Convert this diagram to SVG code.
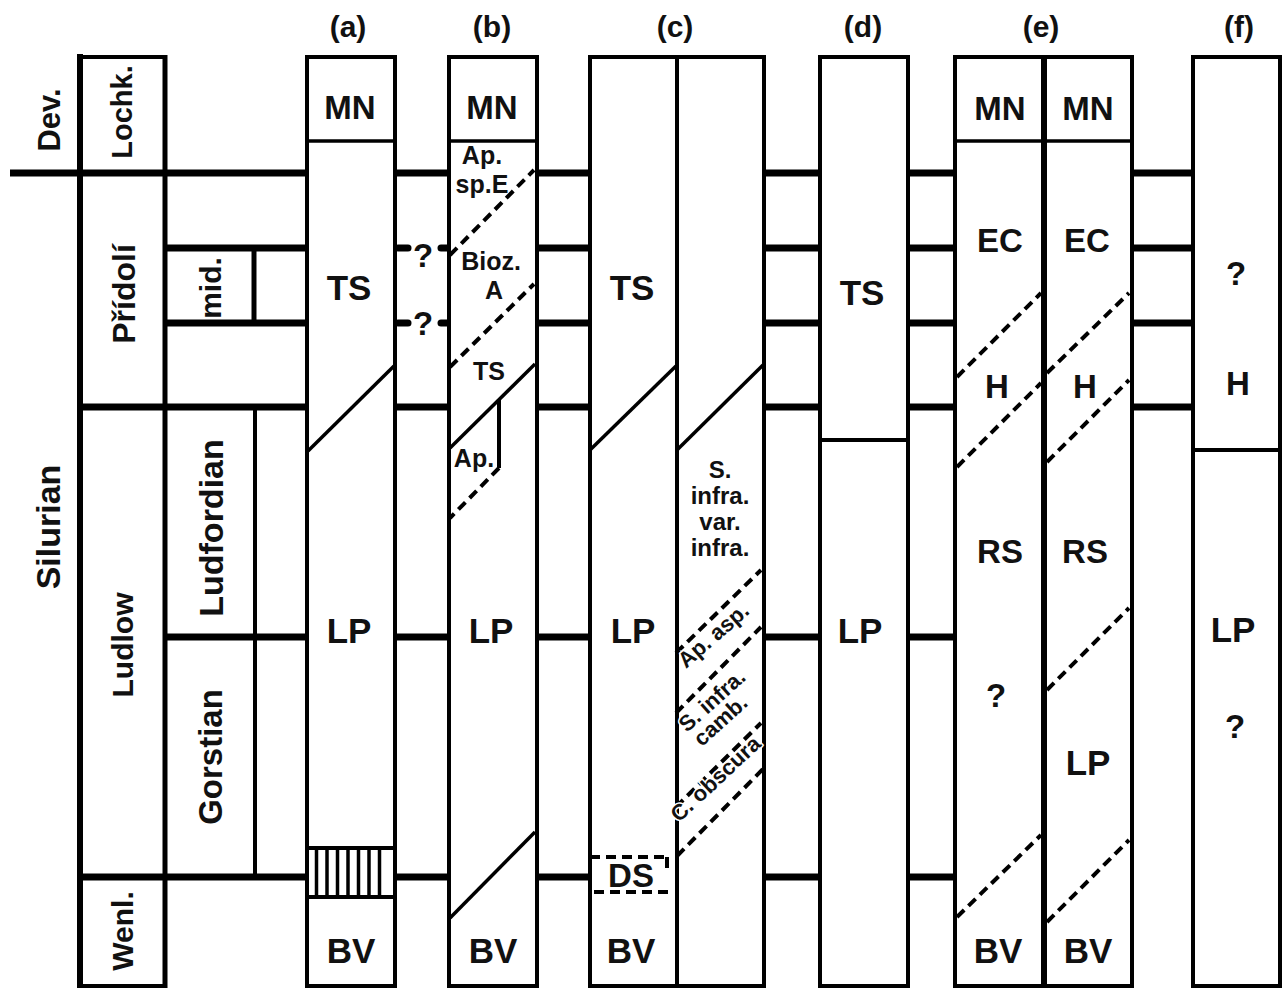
<svg xmlns="http://www.w3.org/2000/svg" width="1285" height="988" viewBox="0 0 1285 988">
<defs>
<style>
.s{fill:none;stroke:#000;stroke-width:4}
.k{fill:none;stroke:#000;stroke-width:7}
.d{fill:none;stroke:#000;stroke-width:4;stroke-dasharray:10 6}
.g{fill:none;stroke:#000;stroke-width:3.5}
.h{fill:none;stroke:#000;stroke-width:3.5}
text{font-family:"Liberation Sans",Arial,Helvetica,sans-serif;font-weight:bold;fill:#111;text-anchor:middle}
.t{font-size:30px}
.f35{font-size:35px}
.f33{font-size:33px}
.f26{font-size:25px}
.f24{font-size:24px}
.r{font-size:22px;text-anchor:start;stroke:#fff;stroke-width:3;paint-order:stroke}
</style>
</defs>
<rect width="1285" height="988" fill="#fff"/>

<g id="timescale">
  <line x1="80" y1="54" x2="80" y2="988" stroke="#000" stroke-width="6"/>
  <line x1="165" y1="55" x2="165" y2="988" stroke="#000" stroke-width="5"/>
  <line x1="77" y1="57" x2="167" y2="57" class="s"/>
  <line x1="80" y1="986" x2="165" y2="986" class="s"/>
  <line x1="10" y1="173" x2="307" y2="173" class="k"/>
  <line x1="165" y1="248" x2="307" y2="248" class="k"/>
  <line x1="165" y1="323" x2="307" y2="323" class="k"/>
  <line x1="80" y1="407" x2="307" y2="407" class="k"/>
  <line x1="165" y1="637" x2="307" y2="637" class="k"/>
  <line x1="80" y1="877" x2="307" y2="877" class="k"/>
  <line x1="254" y1="248" x2="254" y2="323" stroke="#000" stroke-width="5"/>
  <line x1="255" y1="407" x2="255" y2="877" stroke="#000" stroke-width="4"/>
  <text transform="translate(49,120) rotate(-90)" dy="0.36em" style="font-size:31px">Dev.</text>
  <text transform="translate(122,112) rotate(-90)" dy="0.36em" style="font-size:29px">Lochk.</text>
  <text transform="translate(123,294) rotate(-90)" dy="0.36em" style="font-size:32px">Přídolí</text>
  <text transform="translate(210,288) rotate(-90)" dy="0.36em" style="font-size:30px">mid.</text>
  <text transform="translate(48,527) rotate(-90)" dy="0.36em" style="font-size:34px">Silurian</text>
  <text transform="translate(122,645) rotate(-90)" dy="0.36em" style="font-size:30px">Ludlow</text>
  <text transform="translate(211,528) rotate(-90)" dy="0.36em" style="font-size:34px">Ludfordian</text>
  <text transform="translate(210,757) rotate(-90)" dy="0.36em" style="font-size:33px">Gorstian</text>
  <text transform="translate(122,931) rotate(-90)" dy="0.36em" style="font-size:30px">Wenl.</text>
</g>

<g id="col-a">
  <text x="348" y="37" class="t">(a)</text>
  <rect x="307" y="57" width="88" height="929" class="s"/>
  <line x1="307" y1="141" x2="395" y2="141" class="h"/>
  <line x1="308" y1="451" x2="394" y2="366" class="g"/>
  <rect x="307" y="848" width="88" height="49" class="s"/>
  <g stroke="#000" stroke-width="3.5">
    <line x1="316.5" y1="848" x2="316.5" y2="897"/>
    <line x1="327" y1="848" x2="327" y2="897"/>
    <line x1="337.5" y1="848" x2="337.5" y2="897"/>
    <line x1="348" y1="848" x2="348" y2="897"/>
    <line x1="358.5" y1="848" x2="358.5" y2="897"/>
    <line x1="369" y1="848" x2="369" y2="897"/>
    <line x1="379.5" y1="848" x2="379.5" y2="897"/>
  </g>
  <text x="350" y="119" class="f33">MN</text>
  <text x="349" y="300" class="f35">TS</text>
  <text x="349" y="643" class="f35">LP</text>
  <text x="351" y="963" class="f35">BV</text>
</g>

<g id="col-b">
  <text x="492" y="37" class="t">(b)</text>
  <rect x="449" y="57" width="88" height="929" class="s"/>
  <line x1="449" y1="141" x2="537" y2="141" class="h"/>
  <line x1="450" y1="255" x2="534" y2="170" class="d"/>
  <line x1="450" y1="367" x2="534" y2="284" class="d"/>
  <line x1="450" y1="448" x2="535" y2="364" class="g"/>
  <line x1="499" y1="399" x2="499" y2="468" stroke="#000" stroke-width="4"/>
  <line x1="499" y1="468" x2="450" y2="518" class="d"/>
  <line x1="450" y1="918" x2="535" y2="832" class="g"/>
  <text x="492" y="119" class="f33">MN</text>
  <text x="482" y="164" class="f26">Ap.</text>
  <text x="482" y="193" class="f26">sp.E</text>
  <text x="491" y="270" class="f26">Bioz.</text>
  <text x="494" y="299" class="f26">A</text>
  <text x="489" y="380" class="f26">TS</text>
  <text x="474" y="467" class="f26">Ap.</text>
  <text x="491" y="643" class="f35">LP</text>
  <text x="493" y="963" class="f35">BV</text>
</g>

<g id="col-c">
  <text x="675" y="37" class="t">(c)</text>
  <rect x="590" y="57" width="174" height="929" class="s"/>
  <line x1="677" y1="57" x2="677" y2="986" class="s"/>
  <line x1="590" y1="450" x2="676" y2="366" class="g"/>
  <line x1="677" y1="450" x2="763" y2="365" class="g"/>
  <line x1="676" y1="653" x2="761" y2="570" class="d"/>
  <line x1="676" y1="713" x2="761" y2="627" class="d"/>
  <line x1="676" y1="807" x2="761" y2="723" class="d"/>
  <line x1="677" y1="856" x2="765" y2="767" class="d"/>
  <line x1="590" y1="857" x2="668" y2="857" class="d"/>
  <line x1="667" y1="857" x2="667" y2="868" stroke="#000" stroke-width="4"/>
  <line x1="594" y1="892" x2="673" y2="892" class="d"/>
  <text x="632" y="300" class="f35">TS</text>
  <text x="633" y="643" class="f35">LP</text>
  <text x="631" y="887" class="f33">DS</text>
  <text x="631" y="963" class="f35">BV</text>
  <text x="720" y="478" class="f24">S.</text>
  <text x="720" y="504" class="f24">infra.</text>
  <text x="720" y="530" class="f24">var.</text>
  <text x="720" y="556" class="f24">infra.</text>
  <text transform="translate(686,669) rotate(-41)" class="r">Ap. asp.</text>
  <text transform="translate(687,733) rotate(-42)" class="r">S. infra.</text>
  <text transform="translate(687,733) rotate(-42)" class="r" y="20.5" x="1.5">camb.</text>
  <text transform="translate(679,823) rotate(-43)" class="r">C. obscura</text>
</g>

<g id="col-d">
  <text x="863" y="37" class="t">(d)</text>
  <rect x="820" y="57" width="88" height="929" class="s"/>
  <line x1="820" y1="440" x2="908" y2="440" class="s"/>
  <text x="862" y="305" class="f35">TS</text>
  <text x="860" y="643" class="f35">LP</text>
</g>

<g id="col-e">
  <text x="1041" y="37" class="t">(e)</text>
  <rect x="955" y="57" width="177" height="929" class="s"/>
  <line x1="1044" y1="57" x2="1044" y2="986" stroke="#000" stroke-width="6"/>
  <line x1="955" y1="141" x2="1132" y2="141" class="h"/>
  <line x1="957" y1="377" x2="1041" y2="293" class="d"/>
  <line x1="957" y1="467" x2="1041" y2="383" class="d"/>
  <line x1="957" y1="917" x2="1041" y2="835" class="d"/>
  <line x1="1047" y1="373" x2="1129" y2="293" class="d"/>
  <line x1="1047" y1="462" x2="1129" y2="380" class="d"/>
  <line x1="1047" y1="690" x2="1129" y2="608" class="d"/>
  <line x1="1047" y1="922" x2="1129" y2="840" class="d"/>
  <text x="1000" y="120" class="f33">MN</text>
  <text x="1088" y="120" class="f33">MN</text>
  <text x="1000" y="252" class="f33">EC</text>
  <text x="1087" y="252" class="f33">EC</text>
  <text x="997" y="398" class="f33">H</text>
  <text x="1085" y="398" class="f33">H</text>
  <text x="1000" y="563" class="f33">RS</text>
  <text x="1085" y="563" class="f33">RS</text>
  <text x="996" y="707" class="f33">?</text>
  <text x="1088" y="775" class="f35">LP</text>
  <text x="998" y="963" class="f35">BV</text>
  <text x="1088" y="963" class="f35">BV</text>
</g>

<g id="col-f">
  <text x="1239" y="37" class="t">(f)</text>
  <rect x="1193" y="57" width="87" height="929" class="s" stroke-width="4.5"/>
  <line x1="1193" y1="450" x2="1280" y2="450" class="s"/>
  <text x="1236" y="285" class="f33">?</text>
  <text x="1238" y="395" class="f33">H</text>
  <text x="1233" y="642" class="f35">LP</text>
  <text x="1235" y="738" class="f33">?</text>
</g>

<g id="connectors">
  <line x1="395" y1="173" x2="449" y2="173" class="k"/>
  <line x1="395" y1="407" x2="449" y2="407" class="k"/>
  <line x1="395" y1="637" x2="449" y2="637" class="k"/>
  <line x1="395" y1="877" x2="449" y2="877" class="k"/>
  <g stroke="#000" stroke-width="7" stroke-linecap="round">
    <line x1="398" y1="248" x2="408" y2="248"/>
    <line x1="441" y1="248" x2="447" y2="248"/>
    <line x1="398" y1="323" x2="408" y2="323"/>
    <line x1="441" y1="323" x2="447" y2="323"/>
  </g>
  <text x="423" y="267" class="f33">?</text>
  <text x="423" y="335" class="f33">?</text>
  <g class="k">
    <line x1="537" y1="173" x2="590" y2="173"/>
    <line x1="537" y1="248" x2="590" y2="248"/>
    <line x1="537" y1="323" x2="590" y2="323"/>
    <line x1="537" y1="407" x2="590" y2="407"/>
    <line x1="537" y1="637" x2="590" y2="637"/>
    <line x1="537" y1="877" x2="590" y2="877"/>
    <line x1="764" y1="173" x2="820" y2="173"/>
    <line x1="764" y1="248" x2="820" y2="248"/>
    <line x1="764" y1="323" x2="820" y2="323"/>
    <line x1="764" y1="407" x2="820" y2="407"/>
    <line x1="764" y1="637" x2="820" y2="637"/>
    <line x1="764" y1="877" x2="820" y2="877"/>
    <line x1="908" y1="173" x2="955" y2="173"/>
    <line x1="908" y1="248" x2="955" y2="248"/>
    <line x1="908" y1="323" x2="955" y2="323"/>
    <line x1="908" y1="407" x2="955" y2="407"/>
    <line x1="908" y1="637" x2="955" y2="637"/>
    <line x1="908" y1="877" x2="955" y2="877"/>
    <line x1="1132" y1="173" x2="1193" y2="173"/>
    <line x1="1132" y1="248" x2="1193" y2="248"/>
    <line x1="1132" y1="323" x2="1193" y2="323"/>
    <line x1="1132" y1="407" x2="1193" y2="407"/>
  </g>
</g>
</svg>
